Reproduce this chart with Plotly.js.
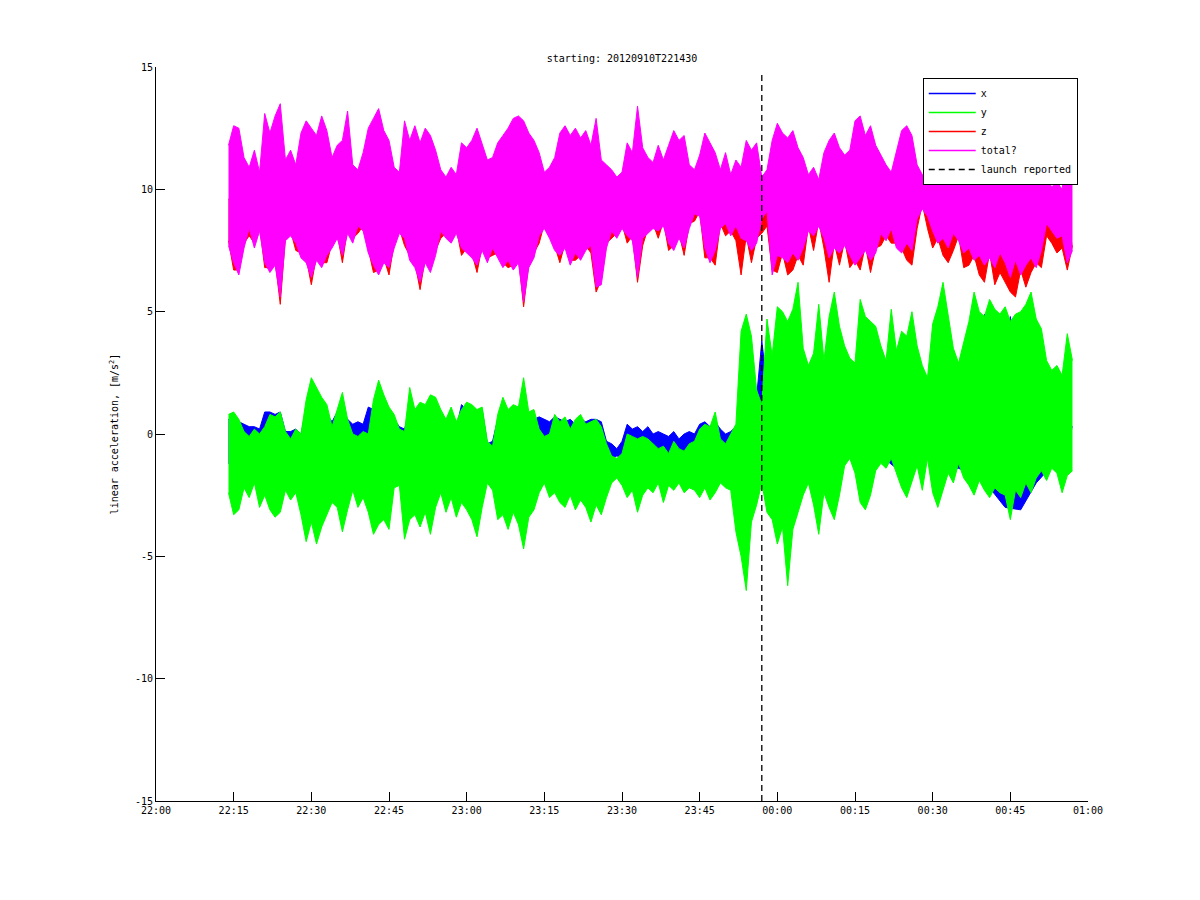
<!DOCTYPE html>
<html>
<head>
<meta charset="utf-8">
<script src="https://cdn.plot.ly/plotly-3.0.1.min.js"></script>
<style>
    body { margin: 0; background: #fff; }
    #accelPlot { width: 1200px; height: 900px; }
</style>
</head>
<body>
<div id="accelPlot"></div>
<script>
// minutes after 22:00 of the first envelope sample, and the sampling steps (min)
const fineStart = 14
const fineStep = 1
const coarseStep = 3
const launchMinute = 117

// tick labels
const tickLabels = ["22:00", "22:15", "22:30", "22:45", "23:00", "23:15", "23:30",
    "23:45", "00:00", "00:15", "00:30", "00:45", "01:00"]
const yTicks = [-15, -10, -5, 0, 5, 10, 15]
const yTickLabels = ["-15", "-10", "-5", "0", "5", "10", "15"]

// "total?" (magenta), per-minute upper / lower envelope, m/s^2
const totalHi = [
    11.8, 12.6, 12.5, 11.3, 10.9, 11.6, 10.7, 13.1, 12.3, 13.0,
    13.5, 11.2, 11.6, 11.0, 12.3, 12.8, 12.5, 12.2, 13.0, 12.4,
    11.3, 11.8, 12.0, 13.2, 11.0, 10.8, 11.5, 12.5, 12.9, 13.3,
    12.4, 12.0, 10.9, 10.7, 12.8, 12.0, 12.6, 11.9, 12.5, 12.2,
    11.6, 10.8, 10.5, 10.9, 10.6, 11.9, 11.7, 12.0, 12.5, 11.8,
    11.2, 11.3, 11.9, 12.2, 12.5, 12.9, 13.0, 12.8, 12.3, 12.0,
    11.5, 10.7, 10.9, 11.3, 12.3, 12.6, 12.2, 12.5, 12.1, 12.4,
    11.8, 12.9, 11.2, 11.0, 10.8, 10.5, 10.7, 11.9, 11.5, 13.4,
    11.7, 11.3, 11.1, 11.8, 11.2, 11.8, 12.4, 12.0, 12.2, 11.0,
    10.8, 11.4, 12.3, 11.9, 11.5, 10.8, 11.5, 10.6, 11.2, 10.9,
    12.0, 11.6, 11.9, 10.5, 10.8, 12.0, 12.7, 12.3, 12.1, 12.4,
    11.7, 11.3, 10.6, 10.9, 10.4, 11.5, 12.0, 12.3, 11.7, 11.4,
    11.6, 12.8, 13.0, 12.2, 12.6, 11.8, 11.4, 11.0, 10.7, 11.5,
    12.4, 12.6, 12.2, 11.0, 10.6, 10.5, 11.3, 12.3, 12.5, 12.2,
    12.0, 11.8, 11.5, 12.0, 12.4, 12.6, 12.3, 12.5, 12.2, 12.4,
    12.1, 12.5, 12.3, 12.0, 12.4, 12.2, 12.0, 11.6, 10.4, 10.1,
    10.3, 10.0, 11.5, 11.2
]
const totalLo = [
    7.7, 7.0, 6.5, 7.6, 8.4, 7.6, 8.3, 7.0, 6.6, 6.9,
    5.6, 7.9, 8.1, 7.8, 7.2, 7.0, 6.4, 7.1, 6.8, 7.3,
    7.6, 8.0, 7.3, 8.2, 7.8, 8.5, 8.3, 7.4, 6.9, 6.5,
    7.0, 6.8, 7.6, 8.2, 8.0, 7.1, 6.8, 6.2, 7.0, 6.6,
    7.3, 8.3, 8.0, 7.8, 8.2, 7.6, 7.4, 7.2, 6.9, 7.5,
    7.0, 7.6, 7.2, 6.8, 7.1, 6.7, 7.0, 5.4, 6.8, 7.2,
    8.1, 8.4, 8.0, 7.5, 7.3, 7.6, 6.9, 7.4, 7.1, 7.5,
    7.7, 6.0, 6.1, 7.6, 8.3, 8.0, 8.4, 8.1, 7.9, 6.4,
    8.0, 8.2, 8.4, 8.3, 8.5, 7.8, 7.5, 8.0, 7.6, 8.4,
    9.0, 8.9, 7.6, 7.0, 7.5, 8.4, 8.6, 8.1, 8.5, 8.0,
    7.9, 7.5, 7.8, 8.8, 9.1, 6.5, 7.3, 7.2, 7.0, 7.4,
    7.1, 7.6, 8.3, 8.1, 8.5, 8.0, 7.2, 7.6, 7.4, 7.7,
    7.3, 6.9, 7.2, 7.5, 7.1, 7.4, 8.2, 7.9, 8.4, 7.6,
    7.4, 7.8, 7.5, 8.8, 9.2, 8.9, 8.3, 7.8, 8.0, 7.6,
    8.2, 7.9, 7.4, 7.6, 7.1, 7.3, 6.9, 7.2, 6.8, 7.4,
    7.0, 6.4, 7.1, 6.5, 6.9, 7.2, 6.8, 7.5, 8.6, 8.3,
    8.0, 8.1, 7.0, 7.5
]

// z (red): per-minute lower envelope, coarse upper envelope (hidden under "total?")
const zLo = [
    7.9, 6.7, 6.7, 7.8, 8.1, 7.8, 8.5, 6.8, 6.8, 7.1,
    5.3, 8.1, 8.3, 7.5, 7.4, 7.2, 6.1, 7.3, 7.0, 7.0,
    7.8, 8.2, 7.0, 8.4, 8.0, 8.2, 8.5, 7.6, 6.6, 6.7,
    7.2, 6.5, 7.8, 8.4, 7.7, 7.3, 7.0, 5.9, 7.2, 6.8,
    7.5, 8.0, 8.2, 8.0, 8.4, 7.3, 7.6, 7.4, 6.6, 7.7,
    7.2, 7.3, 7.4, 7.0, 6.8, 6.9, 7.2, 5.2, 7.0, 7.4,
    7.8, 8.6, 8.2, 7.7, 7.0, 7.8, 7.1, 7.1, 7.3, 7.7,
    7.4, 5.8, 6.3, 7.8, 8.0, 8.2, 8.6, 7.8, 8.1, 6.2,
    7.7, 8.4, 8.6, 8.0, 8.7, 7.5, 7.7, 8.2, 7.3, 8.6,
    8.7, 9.1, 7.2, 7.2, 6.9, 8.6, 8.1, 8.3, 7.9, 6.5,
    8.1, 7.0, 8.0, 8.2, 8.5, 6.7, 6.6, 7.4, 6.5, 6.7,
    7.3, 6.9, 8.5, 7.5, 8.7, 7.6, 6.2, 7.8, 6.9, 7.9,
    6.8, 7.1, 6.7, 7.7, 6.6, 7.6, 7.7, 8.1, 7.8, 7.8,
    7.6, 7.1, 6.9, 8.4, 9.4, 8.4, 7.6, 8.0, 7.3, 7.0,
    7.5, 8.1, 6.8, 6.9, 7.3, 6.5, 6.2, 7.4, 6.1, 6.6,
    6.2, 5.8, 5.6, 6.7, 6.0, 6.6, 7.0, 6.8, 8.1, 7.8,
    7.4, 7.6, 6.7, 7.7
]
const zHi = [
    9.6, 9.7, 9.5, 9.6, 9.8, 9.6, 9.7, 9.5, 9.6, 9.7,
    9.6, 9.5, 9.7, 9.6, 9.5, 9.6, 9.7, 9.6, 9.5, 9.6,
    9.7, 9.6, 9.5, 9.6, 9.7, 9.5, 9.6, 9.7, 9.6, 9.5,
    9.6, 9.7, 9.6, 9.5, 9.6, 9.5, 9.6, 9.7, 9.5, 9.6,
    9.4, 9.5, 9.6, 9.5, 9.4, 9.5, 9.6, 9.4, 9.5, 9.4,
    9.5, 9.4, 9.5, 9.6, 9.5
]

// y (green), per-minute upper / lower envelope
const yHi = [
    0.8, 0.9, 0.6, 0.1, -0.1, 0.2, 0.0, 0.3, 0.8, 0.7,
    0.9, 0.1, -0.2, 0.2, 0.0, 1.4, 2.3, 1.9, 1.5, 1.2,
    0.3, 1.0, 1.7, 0.6, 0.0, -0.1, 0.1, 0.0, 1.4, 2.2,
    1.6, 1.1, 0.8, 0.2, 0.1, 1.9, 1.0, 1.3, 1.2, 1.6,
    1.5, 1.0, 0.6, 1.1, 0.5, 1.0, 1.3, 1.2, 1.0, 1.1,
    -0.3, -0.5, 0.8, 1.5, 1.0, 1.2, 1.1, 2.3, 0.9, 1.0,
    0.2, -0.1, 0.0, 0.8, 0.5, 0.7, 0.2, 0.6, 0.8, 0.4,
    0.5, 0.6, 0.3, -0.4, -0.9, -1.0, -0.8, 0.0, -0.1, -0.2,
    -0.1, -0.2, -0.4, -0.6, -0.5, -0.8, -0.3, -0.6, -0.7, -0.4,
    -0.3, 0.2, 0.4, 0.3, 0.9, -0.2, -0.4, 0.0, 0.4, 4.2,
    4.9, 4.0, 1.8, 1.2, 4.7, 3.2, 5.2, 5.0, 4.6, 5.1,
    6.2, 3.5, 2.8, 3.3, 5.3, 3.0, 4.8, 5.8, 4.4, 3.6,
    3.1, 2.9, 5.5, 4.8, 4.6, 4.4, 3.6, 3.0, 5.1, 3.4,
    4.2, 4.0, 5.0, 3.6, 2.8, 2.3, 4.5, 5.2, 6.2, 4.8,
    3.5, 2.9, 3.8, 4.6, 5.8, 5.0, 4.8, 5.5, 5.1, 4.9,
    5.2, 4.6, 4.9, 5.0, 5.3, 5.8, 4.7, 4.3, 3.0, 2.6,
    2.8, 2.4, 4.1, 3.0
]
const yLo = [
    -2.4, -3.3, -3.1, -2.2, -2.6, -2.0, -3.0, -2.5, -3.1, -3.4,
    -3.2, -2.3, -2.7, -2.4, -3.3, -4.4, -3.6, -4.5, -3.8, -3.3,
    -2.8, -3.0, -4.0, -3.1, -2.3, -3.0, -2.6, -3.2, -4.1, -3.7,
    -3.5, -3.9, -2.2, -2.1, -4.3, -3.5, -3.3, -3.8, -3.2, -4.1,
    -3.0, -2.4, -3.2, -2.6, -3.4, -2.8, -3.1, -3.5, -4.2, -3.0,
    -2.0, -2.3, -3.5, -3.3, -3.9, -3.2, -3.7, -4.7, -3.4, -3.1,
    -2.4, -2.0, -2.6, -2.4, -2.8, -3.0, -2.5, -3.1, -2.7, -3.0,
    -3.6, -2.9, -3.3, -2.6, -2.0, -1.8, -2.1, -2.6, -2.3, -3.2,
    -2.5, -2.2, -2.4, -2.0, -2.8, -2.1, -2.3, -2.0, -2.4, -2.2,
    -2.3, -2.6, -2.2, -2.7, -2.4, -2.0, -2.2, -2.3, -4.0, -5.0,
    -6.4, -3.6, -2.9, -2.0, -3.2, -3.5, -4.5, -3.8, -6.2, -3.9,
    -3.2, -2.5, -2.0, -2.9, -4.1, -2.4, -3.0, -3.5, -2.5, -1.3,
    -1.0, -1.6, -2.8, -3.1, -2.5, -1.5, -1.2, -1.4, -1.0, -1.6,
    -2.2, -2.6, -1.9, -1.3, -2.3, -1.0, -2.4, -3.0, -2.3, -1.6,
    -2.0, -1.2, -1.8, -2.1, -2.5, -1.9, -2.3, -2.6, -2.2, -2.4,
    -2.5, -3.5, -2.3, -2.6, -2.0, -2.4, -1.8, -1.5, -1.9, -1.4,
    -1.6, -2.4, -1.7, -1.5
]

// x (blue): per-minute upper envelope, coarse lower envelope
const xHi = [
    0.6, 0.7, 0.5, 0.4, 0.3, 0.3, 0.2, 0.9, 0.9, 0.8,
    0.9, 0.1, 0.1, 0.2, 0.0, 1.0, 1.2, 1.0, 1.0, 0.8,
    0.5, 0.9, 1.0, 0.6, 0.4, 0.5, 0.4, 1.1, 1.0, 1.2,
    1.0, 0.9, 0.6, 0.3, 0.2, 0.9, 0.8, 0.9, 0.8, 0.9,
    0.8, 0.2, 0.1, 0.3, 0.2, 1.2, 1.0, 0.9, 0.8, 1.0,
    -0.4, -0.3, 0.6, 0.9, 0.8, 0.9, 1.0, 1.1, 0.8, 0.6,
    0.7, 0.6, 0.5, 0.7, 0.6, 0.5, 0.6, 0.4, 0.6, 0.5,
    0.6, 0.6, 0.5, -0.3, -0.4, -0.6, -0.3, 0.4, 0.2, 0.3,
    0.1, 0.3, 0.0, 0.1, 0.0, -0.1, 0.1, -0.2, 0.0, 0.1,
    0.0, 0.4, 0.5, 0.3, 0.5, 0.2, 0.0, 0.1, 0.3, 1.2,
    1.0, 0.8, 1.5, 3.8, 2.0, 1.8, 2.4, 2.0, 1.6, 2.7,
    2.2, 1.5, 1.8, 1.4, 2.0, 1.7, 2.5, 2.0, 1.6, 1.5,
    1.8, 1.4, 2.6, 2.3, 2.0, 1.8, 1.5, 1.7, 1.6, 1.9,
    1.6, 2.0, 1.4, 1.2, 1.8, 1.0, 1.9, 2.2, 1.8, 1.2,
    1.7, 2.5, 2.0, 2.8, 3.2, 3.5, 4.9, 3.8, 4.0, 3.1,
    3.5, 4.8, 3.2, 3.0, 2.6, 3.8, 2.4, 1.2, 0.8, 0.6,
    0.9, 0.7, 0.5, 0.3
]
const xLo = [
    -1.2, -1.0, -1.1, -1.3, -0.9, -1.5, -1.6, -1.4, -1.0, -1.2,
    -1.5, -0.8, -1.6, -1.5, -1.2, -1.3, -1.5, -1.3, -1.6, -1.8,
    -1.0, -1.1, -1.3, -1.2, -1.1, -0.9, -1.0, -0.8, -0.9, -0.9,
    -1.0, -1.1, -1.0, -2.4, -1.2, -1.5, -1.4, -1.3, -1.2, -1.5,
    -0.8, -1.2, -0.9, -1.4, -1.3, -0.8, -1.6, -1.4, -1.7, -2.2,
    -3.0, -3.1, -2.0, -1.3, -1.2
]

const colors = {
    x: "#0000ff",
    y: "#00ff00",
    z: "#ff0000",
    total: "#ff00ff"
}
const monoFont = "DejaVu Sans Mono, Liberation Mono, monospace"

// helpers
function pad2(n) {
    return (n < 10 ? "0" : "") + n
}

function stampFromMinutes(minutes) {
    // minutes after 2012-09-10 22:00 -> plotly date string
    let total = 22 * 60 + minutes
    let day = total >= 1440 ? 11 : 10
    total = total % 1440
    return "2012-09-" + day + " " + pad2(Math.floor(total / 60)) + ":" + pad2(total % 60) + ":00"
}

function timesFor(values, step) {
    return values.map((v, i) => stampFromMinutes(fineStart + i * step))
}

function envelope(name, upper, upperStep, lower, lowerStep, color) {
    // two traces, the second filled back to the first
    let lineStyle = { color: color, width: 1 }
    return [
        {
            type: "scatter", mode: "lines", name: name, x: timesFor(upper, upperStep), y: upper,
            line: lineStyle, showlegend: false, hoverinfo: "skip"
        },
        {
            type: "scatter", mode: "lines", name: name, x: timesFor(lower, lowerStep), y: lower,
            line: lineStyle, fill: "tonexty", fillcolor: color, showlegend: false, hoverinfo: "skip"
        }
    ]
}

function legendEntry(name, color, dash) {
    return {
        type: "scatter", mode: "lines", name: name, x: [null], y: [null],
        line: { color: color, width: 1.6, dash: dash || "solid" }
    }
}

let plotData = []
    .concat(envelope("x", xHi, fineStep, xLo, coarseStep, colors.x))
    .concat(envelope("y", yHi, fineStep, yLo, fineStep, colors.y))
    .concat(envelope("z", zHi, coarseStep, zLo, fineStep, colors.z))
    .concat(envelope("total?", totalHi, fineStep, totalLo, fineStep, colors.total))

plotData.push({
    type: "scatter", mode: "lines", name: "launch reported",
    x: [stampFromMinutes(launchMinute), stampFromMinutes(launchMinute)],
    y: [yTicks[0], 14.8],
    line: { color: "#000000", width: 1.3, dash: "6px,4px" },
    showlegend: false, hoverinfo: "skip"
})

plotData.push(legendEntry("x", colors.x))
plotData.push(legendEntry("y", colors.y))
plotData.push(legendEntry("z", colors.z))
plotData.push(legendEntry("total?", colors.total))
plotData.push(legendEntry("launch reported", "#000000", "6px,4px"))

let tickVals = tickLabels.map((t, i) => stampFromMinutes(i * 15))

let plotLayout = {
    width: 1200,
    height: 900,
    margin: { l: 156, r: 112, t: 67, b: 99 },
    paper_bgcolor: "#ffffff",
    plot_bgcolor: "#ffffff",
    font: { family: monoFont, size: 10, color: "#000000" },
    title: {
        text: "starting: 20120910T221430",
        font: { family: monoFont, size: 10, color: "#000000" },
        xref: "paper", x: 0.5, xanchor: "center",
        yref: "container", y: 1 - 58 / 900, yanchor: "middle"
    },
    xaxis: {
        type: "date",
        range: [tickVals[0], tickVals[tickVals.length - 1]],
        tickvals: tickVals,
        ticktext: tickLabels,
        ticks: "inside",
        ticklen: 9,
        tickcolor: "#000000",
        showline: true,
        linecolor: "#000000",
        linewidth: 1,
        showgrid: false,
        zeroline: false,
        tickfont: { family: monoFont, size: 10 }
    },
    yaxis: {
        range: [yTicks[0], yTicks[yTicks.length - 1]],
        tickvals: yTicks,
        ticktext: yTickLabels,
        ticks: "inside",
        ticklen: 9,
        tickcolor: "#000000",
        showline: true,
        linecolor: "#000000",
        linewidth: 1,
        showgrid: false,
        zeroline: false,
        tickfont: { family: monoFont, size: 10 },
        title: {
            text: "linear acceleration, [m/s<sup>2</sup>]",
            font: { family: monoFont, size: 10 },
            standoff: 14
        }
    },
    showlegend: true,
    legend: {
        xref: "paper", yref: "paper",
        x: 0.989, y: 0.985,
        xanchor: "right", yanchor: "top",
        traceorder: "normal",
        bgcolor: "#ffffff",
        bordercolor: "#000000",
        borderwidth: 1,
        font: { family: monoFont, size: 10 },
        tracegroupgap: 0,
        itemwidth: 47,
        entrywidth: 170
    },
    hovermode: false
}

Plotly.newPlot("accelPlot", plotData, plotLayout, { staticPlot: true, displayModeBar: false })
</script>
</body>
</html>
